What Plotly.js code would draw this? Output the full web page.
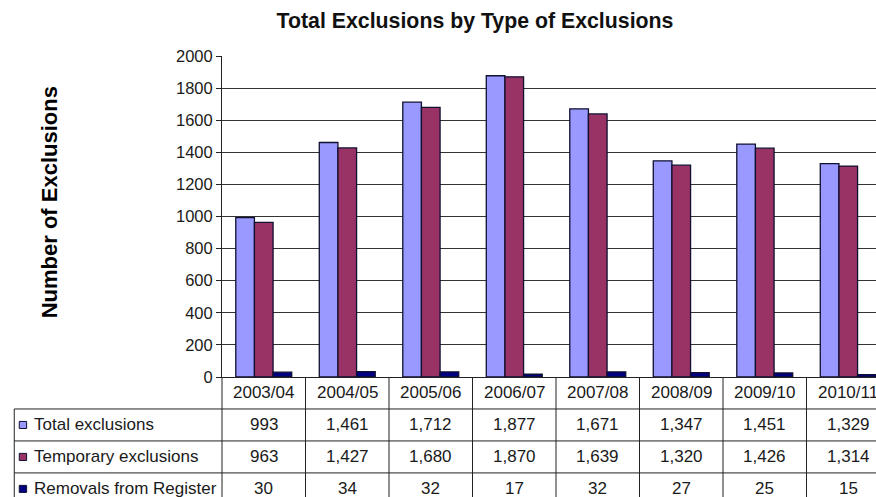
<!DOCTYPE html>
<html>
<head>
<meta charset="utf-8">
<script src="https://cdn.plot.ly/plotly-3.0.1.min.js"></script>
<style>
html,body{margin:0;padding:0;overflow:hidden;background:#fff;}
#chart{width:900px;height:497px;}
</style>
</head>
<body>
<div id="chart"></div>
<script>
const categories = ["2003/04","2004/05","2005/06","2006/07","2007/08","2008/09","2009/10","2010/11"];
const seriesNames = ["Total exclusions","Temporary exclusions","Removals from Register"];
const totalExclusions = [993,1461,1712,1877,1671,1347,1451,1329];
const temporaryExclusions = [963,1427,1680,1870,1639,1320,1426,1314];
const removalsFromRegister = [30,34,32,17,32,27,25,15];
const yTickValues = [0,200,400,600,800,1000,1200,1400,1600,1800,2000];
const chartTitle = "Total Exclusions by Type of Exclusions";
const yTitle = "Number of Exclusions";

const colors = ["#9999FF","#993366","#000080"];
const seriesValues = [totalExclusions, temporaryExclusions, removalsFromRegister];
const font = "Arial, 'Liberation Sans', sans-serif";
const txtColor = "#1a1a1a";
const tableFont = 17;

const traces = seriesValues.map((vals, i) => ({
  type: "bar",
  name: seriesNames[i],
  x: categories,
  y: vals,
  marker: {color: colors[i], line: {color: "#101030", width: 1.3}},
  hoverinfo: "x+y+name"
}));

const rowH = 0.0996;
const labelLeft = -0.311;
const shapes = [];
const annotations = [];

for (let r = 1; r <= 4; r++) {
  shapes.push({type:"line", xref:"paper", yref:"paper", x0:labelLeft, x1:1.05, y0:-rowH*r, y1:-rowH*r,
    line:{color:"#222", width:1}});
}
shapes.push({type:"line", xref:"paper", yref:"paper", x0:labelLeft, x1:labelLeft, y0:-rowH, y1:-0.5,
  line:{color:"#222", width:1}});
shapes.push({type:"line", xref:"paper", yref:"paper", x0:0, x1:0, y0:0, y1:-0.5,
  line:{color:"#222", width:1}});
for (let i = 0; i < categories.length; i++) {
  shapes.push({type:"line", xref:"x", yref:"paper", x0:i+0.5, x1:i+0.5, y0:0, y1:-0.5,
    line:{color:"#222", width:1}});
}
categories.forEach((c) => {
  annotations.push({xref:"x", yref:"paper", x:c, y:-rowH*0.5, text:c, showarrow:false,
    xanchor:"center", yanchor:"middle", font:{family:font, size:tableFont, color:txtColor}});
});
seriesValues.forEach((vals, s) => {
  const yc = -rowH*(s+1.5);
  annotations.push({xref:"paper", yref:"paper", x:-0.285, y:yc, text:seriesNames[s], showarrow:false,
    xanchor:"left", yanchor:"middle", font:{family:font, size:tableFont, color:txtColor}});
  shapes.push({type:"rect", xref:"paper", yref:"paper",
    x0:-0.3035, x1:-0.2925, y0:yc-0.011, y1:yc+0.011,
    fillcolor:colors[s], line:{color:"#101030", width:1}});
  vals.forEach((v, i) => {
    annotations.push({xref:"x", yref:"paper", x:categories[i], y:yc, text:v.toLocaleString("en-US"),
      showarrow:false, xanchor:"center", yanchor:"middle", font:{family:font, size:tableFont, color:txtColor}});
  });
});
annotations.push({xref:"paper", yref:"paper", x:-0.258, y:0.543, text:"<b>"+yTitle+"</b>", textangle:-90,
  showarrow:false, xanchor:"center", yanchor:"middle", font:{family:font, size:22, color:"#000"}});

const layout = {
  width: 900, height: 497,
  margin: {l:222, r:10, t:56, b:119.6},
  paper_bgcolor: "#fff", plot_bgcolor: "#fff",
  title: {text:"<b>"+chartTitle+"</b>", x:475/900, xanchor:"center", y:0.958, yanchor:"middle",
    font:{family:font, size:21.3, color:"#111"}},
  showlegend: false,
  barmode: "group",
  bargap: 0.33,
  bargroupgap: 0,
  xaxis: {type:"category", range:[-0.5, 7.5], showticklabels:false, ticks:"", showgrid:false,
    showline:true, linecolor:"#222", linewidth:1, zeroline:false, fixedrange:true},
  yaxis: {range:[0,2000], tickvals:yTickValues, ticks:"outside", ticklen:5, tickcolor:"#222",
    showline:true, linecolor:"#222", linewidth:1, showgrid:true, gridcolor:"#333", gridwidth:1,
    zeroline:false, tickfont:{family:font, size:16.5, color:txtColor}, fixedrange:true},
  shapes: shapes,
  annotations: annotations
};

Plotly.newPlot("chart", traces, layout, {displayModeBar:false, staticPlot:true});
</script>
</body>
</html>
